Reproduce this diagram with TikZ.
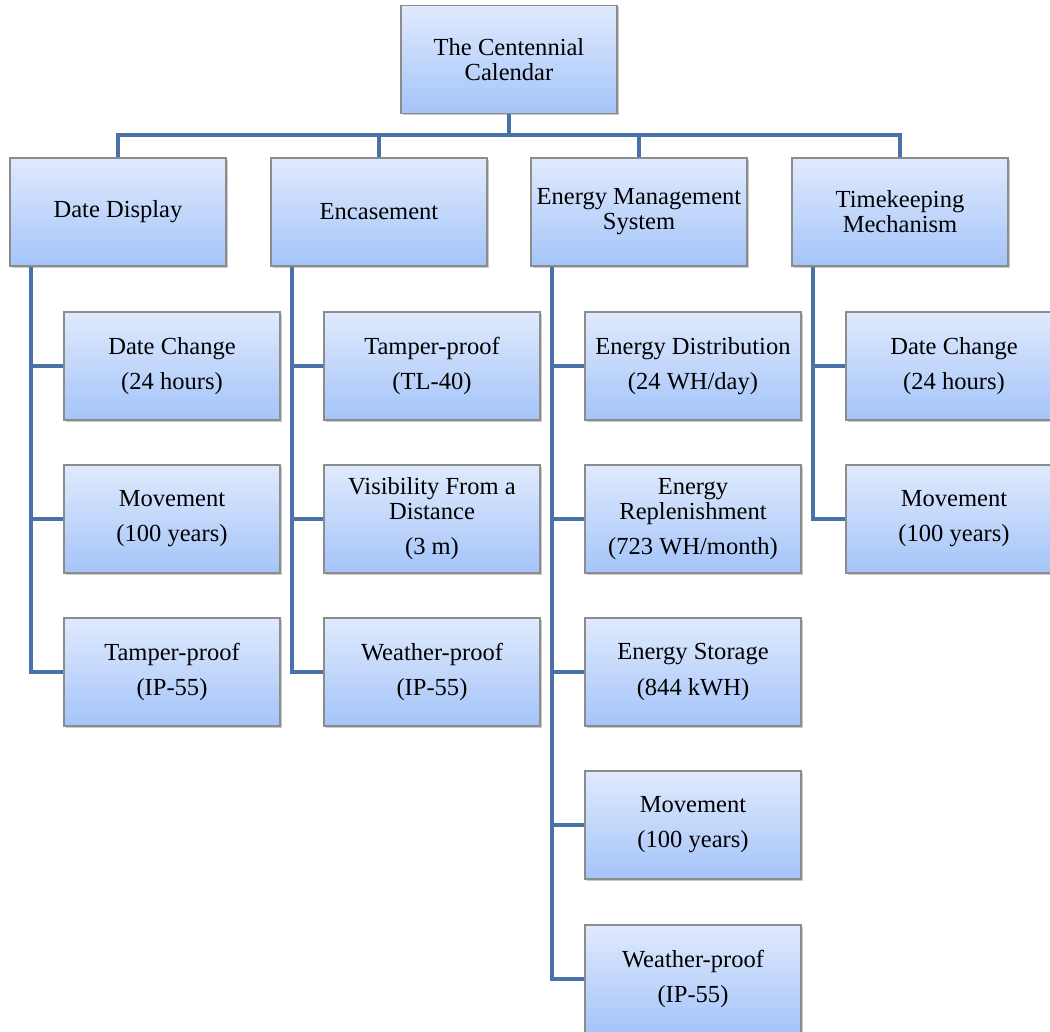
\documentclass[tikz,border=0pt]{standalone}
\usepackage{fontspec}
\setmainfont{Liberation Serif}
\usetikzlibrary{shadows}
\definecolor{conncol}{RGB}{74,114,168}
\definecolor{boxtop}{RGB}{224,234,253}
\definecolor{boxbot}{RGB}{164,196,249}
\definecolor{boxline}{RGB}{140,140,140}
\tikzset{
  box/.style={rectangle, draw=boxline, line width=0.8pt,
    top color=boxtop, bottom color=boxbot,
    minimum width=162pt, minimum height=81pt, inner sep=2pt,
    align=center, font=\fontsize{18.4}{18.8}\selectfont,
    drop shadow={shadow xshift=1.2pt, shadow yshift=-1.2pt, opacity=0.35, fill=black!60}},
  conn/.style={draw=conncol, line width=3pt}
}
\begin{document}
\begin{tikzpicture}[x=0.75pt,y=-0.75pt]
\useasboundingbox (0,0) rectangle (1050,1032);
% connectors first (behind boxes)
\coordinate (bus) at (509,135);
% nodes
\node[box] (root) at (509,59.5) {The Centennial\\Calendar};
\node[box] (dd) at (118,212) {Date Display};
\node[box] (enc) at (379,212) {Encasement};
\node[box] (ems) at (639,212) {Energy Management\\System};
\node[box] (tk) at (900,212) {Timekeeping\\Mechanism};

\node[box] (dd1) at (172,366) {Date Change\\[7.5pt](24 hours)};
\node[box] (dd2) at (172,519) {Movement\\[7.5pt](100 years)};
\node[box] (dd3) at (172,672) {Tamper-proof\\[7.5pt](IP-55)};

\node[box] (enc1) at (432,366) {Tamper-proof\\[7.5pt](TL-40)};
\node[box] (enc2) at (432,519) {Visibility From a\\Distance\\[7.5pt](3 m)};
\node[box] (enc3) at (432,672) {Weather-proof\\[7.5pt](IP-55)};

\node[box] (ems1) at (693,366) {Energy Distribution\\[7.5pt](24 WH/day)};
\node[box] (ems2) at (693,519) {Energy\\Replenishment\\[7.5pt](723 WH/month)};
\node[box] (ems3) at (693,672) {Energy Storage\\[7.5pt](844 kWH)};
\node[box] (ems4) at (693,825) {Movement\\[7.5pt](100 years)};
\node[box] (ems5) at (693,979) {Weather-proof\\[7.5pt](IP-55)};

\node[box] (tk1) at (954,366) {Date Change\\[7.5pt](24 hours)};
\node[box] (tk2) at (954,519) {Movement\\[7.5pt](100 years)};

\begin{scope}[on background layer/.style={}]
\end{scope}
% top-level connectors
\draw[conn] (root.south) -- (bus);
\draw[conn] (dd.north) |- (bus) -| (tk.north);
\draw[conn] (enc.north) -- (enc.north |- bus);
\draw[conn] (ems.north) -- (ems.north |- bus);
% child connectors
\foreach \p/\c in {dd/dd1, dd/dd2, dd/dd3, enc/enc1, enc/enc2, enc/enc3,
                   ems/ems1, ems/ems2, ems/ems3, ems/ems4, ems/ems5,
                   tk/tk1, tk/tk2}
  \draw[conn] ([xshift=16.5pt]\p.south west) |- (\c.west);
\end{tikzpicture}
\end{document}
